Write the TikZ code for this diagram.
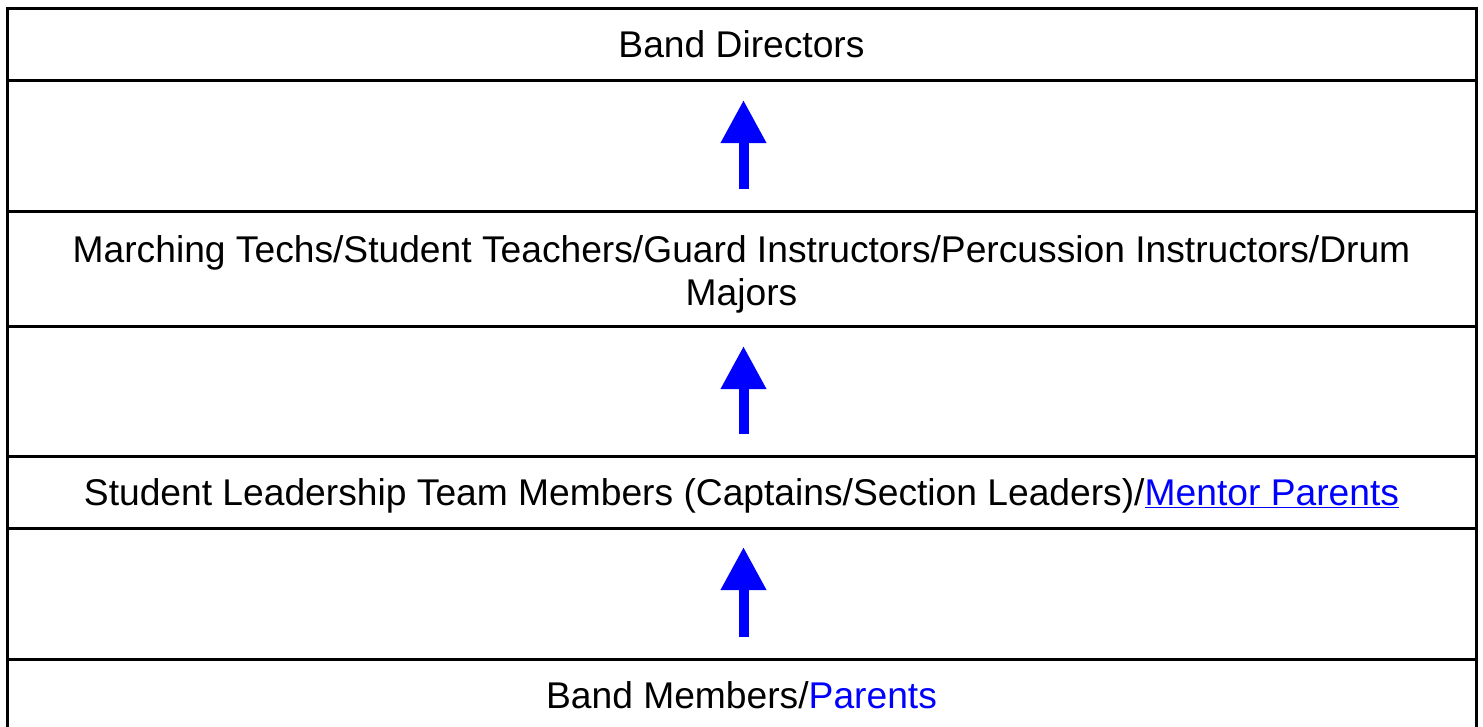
\documentclass[tikz,border=0pt]{standalone}
\usepackage{fontspec}
\setmainfont{Liberation Sans}
\usetikzlibrary{arrows.meta}
\definecolor{linkblue}{RGB}{0,0,255}
\tikzset{
  x=1pt, y=-1pt,
  rule/.style={line width=3pt, black},
  celltext/.style={anchor=base, inner sep=0pt, font=\fontsize{37.2}{43}\selectfont, align=center},
  uparrow/.style={draw=linkblue, line width=10pt, -{Triangle[length=43pt,width=43pt]}, shorten >=0pt}
}
\begin{document}
\begin{tikzpicture}
\useasboundingbox (0,0) rectangle (1483,726);
% table rules
\draw[rule] (7.5,7) -- (7.5,728);
\draw[rule] (1476.5,7) -- (1476.5,728);
\foreach \yy in {8.5,80,211.5,326,456,528,659}
  \draw[rule] (6,\yy) -- (1478,\yy);
% texts
\node[celltext] (bd) at (741.5,57) {Band Directors};
\node[celltext] (mt) at (741.5,305) {Marching Techs/Student Teachers/Guard Instructors/Percussion Instructors/Drum\\Majors};
\node[celltext] (sl) at (741.5,505) {Student Leadership Team Members (Captains/Section Leaders)/\textcolor{linkblue}{\underline{Mentor Parents}}};
\node[celltext] (bm) at (741.5,708) {Band Members/\textcolor{linkblue}{Parents}};
% arrows
\coordinate (a1s) at (743.5,189);
\coordinate (a1t) at (743.5,100);
\coordinate (a2s) at (743.5,434);
\coordinate (a2t) at (743.5,346);
\coordinate (a3s) at (743.5,637);
\coordinate (a3t) at (743.5,547);
\draw[uparrow] (a1s) -- (a1t);
\draw[uparrow] (a2s) -- (a2t);
\draw[uparrow] (a3s) -- (a3t);
\end{tikzpicture}
\end{document}
